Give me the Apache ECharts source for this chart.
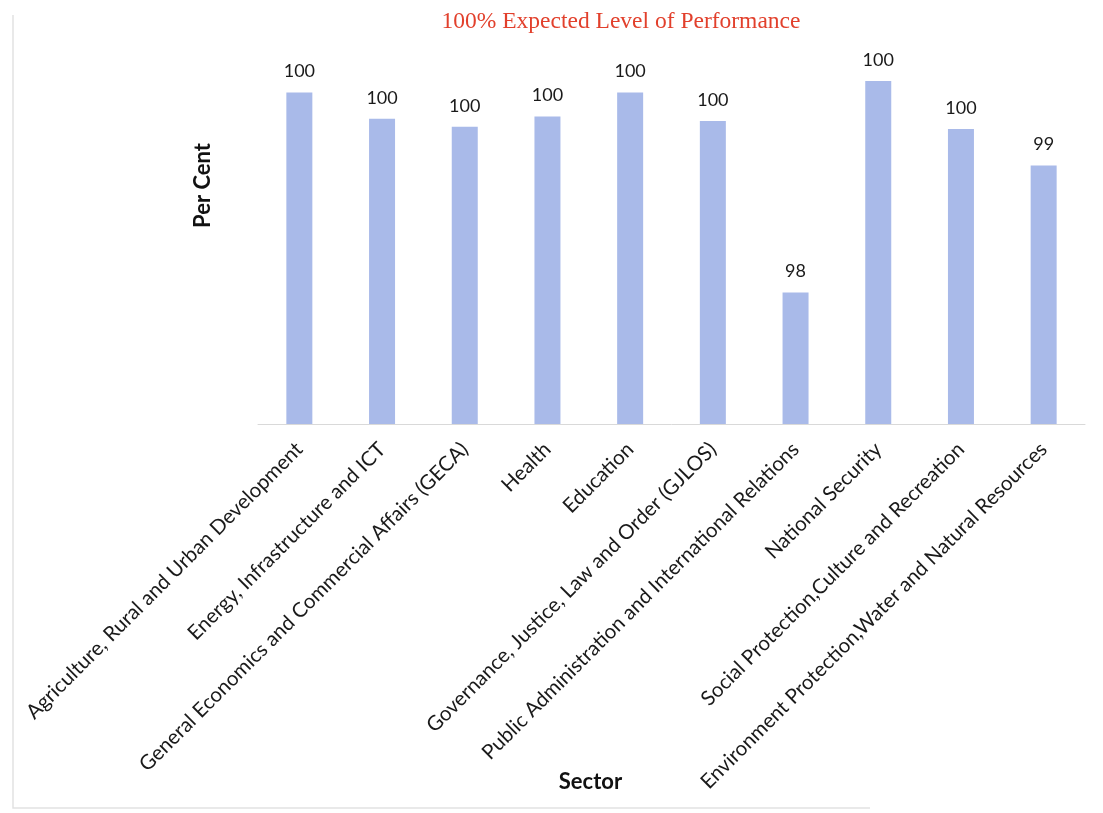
<!DOCTYPE html>
<html>
<head>
<meta charset="utf-8">
<script src="https://cdn.jsdelivr.net/npm/echarts@6/dist/echarts.min.js"></script>
<style>
html,body{margin:0;padding:0;background:#fff;}
#chart{width:1103px;height:813px;}
</style>
</head>
<body>
<div id="chart"></div>
<script>
const titleText = '100% Expected Level of Performance';
const sectors = [
  'Agriculture, Rural and Urban Development',
  'Energy, Infrastructure and ICT',
  'General Economics and Commercial Affairs (GECA)',
  'Health',
  'Education',
  'Governance, Justice, Law and Order (GJLOS)',
  'Public Administration and International Relations',
  'National Security',
  'Social Protection,Culture and Recreation',
  'Environment Protection,Water and Natural Resources'
];
const perCent = [99.90, 99.67, 99.60, 99.69, 99.90, 99.65, 98.15, 100.0, 99.58, 99.26];
const xName = 'Sector';
const yName = 'Per Cent';

const chart = echarts.init(document.getElementById('chart'));
chart.setOption({
  backgroundColor: '#ffffff',
  animation: false,
  title: {
    text: titleText,
    left: 616, top: 5,
    textAlign: 'center',
    textStyle: { fontFamily: 'Liberation Serif', fontWeight: 'normal', fontSize: 23.5, color: '#e2402c' }
  },
  grid: { left: 258, right: 18, top: 81, bottom: 389, containLabel: false, outerBoundsMode: 'none' },
  xAxis: {
    type: 'category',
    data: sectors,
    name: xName,
    nameLocation: 'middle',
    nameGap: 347,
    nameMoveOverlap: false,
    nameTextStyle: { fontFamily: 'Lato', fontWeight: 'bold', fontSize: 22, color: '#111', padding: [0, 162, 0, 0] },
    axisLine: { lineStyle: { color: '#d9d9d9', width: 1 } },
    axisTick: { show: false },
    axisLabel: { rotate: 45, interval: 0, margin: 22, fontFamily: 'Lato', fontSize: 20.5, color: '#1a1a1a' }
  },
  yAxis: {
    type: 'value',
    min: 97, max: 100,
    name: yName,
    nameLocation: 'middle',
    nameRotate: 90,
    nameGap: 44,
    nameMoveOverlap: false,
    nameTextStyle: { fontFamily: 'Lato', fontWeight: 'bold', fontSize: 22, color: '#111', padding: [0, 0, 0, 134] },
    axisLine: { show: false },
    axisTick: { show: false },
    axisLabel: { show: false },
    splitLine: { show: false }
  },
  series: [{
    type: 'bar',
    data: perCent,
    barWidth: 26,
    itemStyle: { color: '#a9bae9' },
    label: {
      show: true, position: 'top', distance: 12,
      fontFamily: 'Lato', fontSize: 18, color: '#1a1a1a',
      formatter: p => String(Math.round(p.value))
    }
  }],
  graphic: [{
    type: 'polyline',
    silent: true,
    shape: { points: [[13, 15], [13, 808], [870, 808]] },
    style: { stroke: '#e2e2e2', lineWidth: 1.5, fill: null }
  }]
});
</script>
</body>
</html>
